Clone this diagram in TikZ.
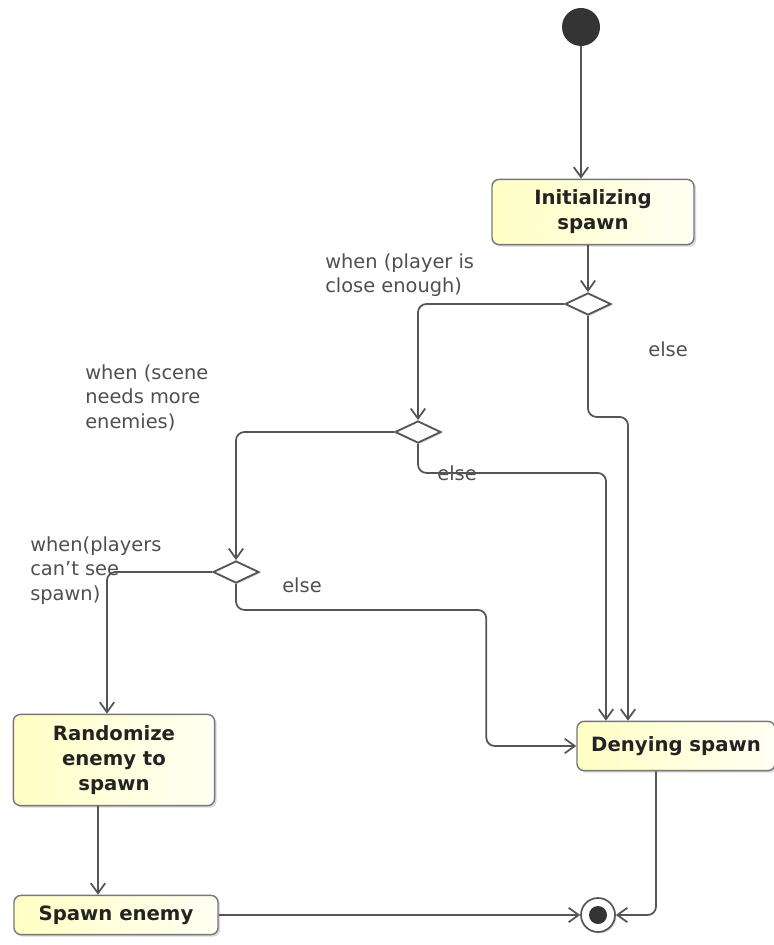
\documentclass[tikz,border=0pt]{standalone}
\usepackage{fontspec}
\setmainfont{DejaVu Sans}
\usetikzlibrary{arrows.meta,calc,shapes.geometric,shadows}
\definecolor{bl}{RGB}{255,255,196}
\definecolor{br}{RGB}{255,255,244}
\definecolor{ln}{RGB}{85,85,85}
\definecolor{tx}{RGB}{35,35,35}
\definecolor{dot}{RGB}{52,52,52}
\tikzset{st/.style={draw=ln!80,line width=1pt,left color=bl,right color=br,rounded corners=5pt,align=center,
   font=\bfseries\fontsize{14}{17.8}\selectfont,text=tx,drop shadow={shadow xshift=1.5pt,shadow yshift=-1.5pt,opacity=.3}},
 dec/.style={draw=ln,line width=1.3pt,fill=white,diamond,aspect=2,minimum width=11.5mm,minimum height=5.5mm,inner sep=0pt,
   drop shadow={shadow xshift=1pt,shadow yshift=-1pt,opacity=.3}},
 arr/.style={-{Straight Barb[length=2.5mm,width=3.6mm]},draw=ln,line width=1.25pt,rounded corners=6pt},
 lbl/.style={align=left,text=tx!80,font=\fontsize{13.8}{17.5}\selectfont,inner sep=0pt}}
\begin{document}
\begin{tikzpicture}[x=0.025cm,y=-0.025cm]
\useasboundingbox (0,0) rectangle (774,945);
% states
\node[circle,fill=dot,minimum size=9.5mm,inner sep=0pt] (ini) at (581,27) {};
\node[st,minimum width=5.05cm,minimum height=1.63cm] (init) at (593,212) {Initializing\\spawn};
\node[st,minimum width=5.03cm,minimum height=2.28cm] (rnd) at (114,760) {Randomize\\enemy to\\spawn};
\node[st,minimum width=4.95cm,minimum height=1.23cm] (den) at (676,746) {Denying spawn};
\node[st,minimum width=5.1cm,minimum height=.98cm] (spn) at (116,915) {Spawn enemy};
\node[circle,draw=ln,line width=1.2pt,fill=white,minimum size=8.5mm,inner sep=0pt,
  drop shadow={shadow xshift=1pt,shadow yshift=-1pt,opacity=.3}] (fin) at (598,915) {};
\node[circle,fill=dot,minimum size=4.5mm,inner sep=0pt] at (fin) {};
% decisions
\node[dec] (d1) at (588,304) {};
\node[dec] (d2) at (418,432) {};
\node[dec] (d3) at (236,572) {};
% guards
\node[lbl,anchor=north west] (g1) at (325,253) {when (player is\\close enough)};
\node[lbl,anchor=north west] (g2) at (85,364) {when (scene\\needs more\\enemies)};
\node[lbl,anchor=north west] (g3) at (30,536) {when(players\\can't see\\spawn)};
\node[lbl] (e1) at (668,349) {else};
\node[lbl] (e2) at (457,473) {else};
\node[lbl] (e3) at (302,585) {else};
% flows
\draw[arr] (ini) -- (ini |- init.north);
\draw[arr] (init.south -| d1) -- (d1.north);
\draw[arr] (d1.west) -| (d2.north);
\draw[arr] (d2.west) -| (d3.north);
\draw[arr] (d3.west) -| ($(rnd.north)+(-7,0)$);
\draw[arr] (d1.south) -- ++(0,101) -| ($(den.north)+(-48,0)$);
\draw[arr] (d2.south) -- ++(0,29) -| ($(den.north)+(-70,0)$);
\draw[arr] (d3.south) -- ++(0,26) -| ($(den.west)+(-90,0)$) -- (den.west);
\draw[arr] ($(rnd.south)+(-16,0)$) -- ($(spn.north)+(-18,0)$);
\draw[arr] (spn.east) -- (fin.west);
\draw[arr] ($(den.south)+(-20,0)$) |- (fin.east);
\end{tikzpicture}
\end{document}
